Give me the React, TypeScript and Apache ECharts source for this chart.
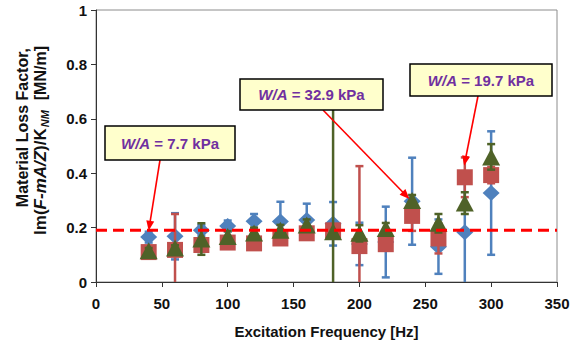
import React, { useEffect, useRef } from 'react';
import * as echarts from 'echarts';

// ---- data ----
const frequencies = [40, 60, 80, 100, 120, 140, 160, 180, 200, 220, 240, 260, 280, 300];

const blueValues = [0.165, 0.168, 0.19, 0.206, 0.223, 0.222, 0.228, 0.214, 0.14, 0.147, 0.297, 0.13, 0.183, 0.327];
const blueErrors = [0.02, 0.085, 0.02, 0.02, 0.027, 0.073, 0.06, 0.08, 0.078, 0.13, 0.16, 0.1, 0.2, 0.227];

const redValues = [0.11, 0.118, 0.136, 0.145, 0.142, 0.16, 0.179, 0.19, 0.132, 0.139, 0.243, 0.16, 0.385, 0.393];
const redErrors = [0.01, 0.132, 0.02, 0.02, 0.02, 0.02, 0.02, 0.02, 0.294, 0.02, 0.055, 0.055, 0.073, 0.03];

const greenValues = [0.115, 0.125, 0.158, 0.167, 0.18, 0.19, 0.21, 0.185, 0.179, 0.197, 0.3, 0.216, 0.29, 0.46];
const greenErrors = [0.01, 0.01, 0.058, 0.02, 0.02, 0.02, 0.02, 0.5, 0.03, 0.02, 0.02, 0.034, 0.04, 0.047];

const referenceLevel = 0.19;

const annotationLabels = ['7.7', '32.9', '19.7'];
const annotationTargets = [
  [40, 0.188],
  [238, 0.305],
  [279.5, 0.427],
];

const COLORS = { blue: '#4F81BD', red: '#C0504D', green: '#4F6228' };
const FONT = '"Liberation Sans", Arial, sans-serif';

function errorSeries(vals: number[], errs: number[], color: string, z: number) {
  return {
    type: 'custom',
    z,
    silent: true,
    data: frequencies.map((f, i) => [f, vals[i], errs[i]]),
    encode: { x: 0, y: 1 },
    renderItem: (params: any, api: any) => {
      const x = api.value(0);
      const y = api.value(1);
      const e = api.value(2);
      const cs = params.coordSys;
      const top = api.coord([x, y + e]);
      const bot = api.coord([x, y - e]);
      const yMin = cs.y;
      const yMax = cs.y + cs.height;
      const t = Math.max(top[1], yMin);
      const b = Math.min(bot[1], yMax);
      const style = { stroke: color, lineWidth: 2.5 };
      const children: any[] = [
        { type: 'line', shape: { x1: top[0], y1: t, x2: top[0], y2: b }, style },
      ];
      if (top[1] >= yMin) children.push({ type: 'line', shape: { x1: top[0] - 4, y1: top[1], x2: top[0] + 4, y2: top[1] }, style });
      if (bot[1] <= yMax) children.push({ type: 'line', shape: { x1: bot[0] - 4, y1: bot[1], x2: bot[0] + 4, y2: bot[1] }, style });
      return { type: 'group', children };
    },
  };
}

function scatterSeries(vals: number[], color: string, symbol: string, size: number[], z: number) {
  return {
    type: 'scatter',
    z,
    symbol,
    symbolSize: size,
    itemStyle: { color, opacity: 1 },
    data: frequencies.map((f, i) => [f, vals[i]]),
  };
}

export default function App() {
  const ref = useRef<HTMLDivElement>(null);
  useEffect(() => {
    document.body.style.margin = '0';
    const chart = echarts.init(ref.current!, null, { renderer: 'svg' });
    chart.setOption({
      animation: false,
      backgroundColor: '#ffffff',
      grid: {
        left: 96,
        right: 17,
        top: 10,
        bottom: 65,
        show: true,
        borderColor: '#8c8c8c',
        borderWidth: 1,
      },
      xAxis: {
        type: 'value',
        min: 0,
        max: 350,
        interval: 50,
        name: 'Excitation Frequency [Hz]',
        nameLocation: 'middle',
        nameGap: 42,
        nameTextStyle: { fontFamily: FONT, fontWeight: 'bold', fontSize: 15, color: '#111' },
        axisLine: { lineStyle: { color: '#333', width: 1 } },
        axisTick: { show: true, inside: false, length: 5, lineStyle: { color: '#333' } },
        axisLabel: { margin: 14, fontFamily: FONT, fontWeight: 'bold', fontSize: 15, color: '#111' },
        splitLine: { show: false },
      },
      yAxis: {
        type: 'value',
        min: 0,
        max: 1,
        interval: 0.2,
        axisLine: { show: true, lineStyle: { color: '#333', width: 1 } },
        axisTick: { show: true, inside: false, length: 5, lineStyle: { color: '#333' } },
        axisLabel: { margin: 9, fontFamily: FONT, fontWeight: 'bold', fontSize: 15, color: '#111' },
        splitLine: { show: false },
      },
      series: [
        errorSeries(blueValues, blueErrors, COLORS.blue, 2),
        scatterSeries(blueValues, COLORS.blue, 'diamond', [17, 16], 3),
        errorSeries(redValues, redErrors, COLORS.red, 4),
        scatterSeries(redValues, COLORS.red, 'rect', [16, 16], 5),
        errorSeries(greenValues, greenErrors, COLORS.green, 6),
        scatterSeries(greenValues, COLORS.green, 'triangle', [18, 17], 7),
        {
          type: 'line',
          z: 8,
          silent: true,
          symbol: 'none',
          data: [
            [0, referenceLevel],
            [350, referenceLevel],
          ],
          lineStyle: { color: '#FF0000', width: 3, type: [11, 6] },
        },
      ],
    });

    const boxes = [
      { x: 105, y: 126, w: 130, h: 34, sx: 160, sy: 160 },
      { x: 240, y: 79, w: 143, h: 31, sx: 323, sy: 110 },
      { x: 410, y: 64, w: 142, h: 32, sx: 478, sy: 96 },
    ];
    const graphics: any[] = [];
    boxes.forEach((b, i) => {
      const tip = chart.convertToPixel({ gridIndex: 0 }, annotationTargets[i]) as number[];
      const dx = tip[0] - b.sx;
      const dy = tip[1] - b.sy;
      const len = Math.sqrt(dx * dx + dy * dy);
      const ux = dx / len;
      const uy = dy / len;
      const L = 10;
      const W = 8;
      const bx = tip[0] - ux * L;
      const by = tip[1] - uy * L;
      graphics.push({
        type: 'line',
        z: 100,
        shape: { x1: b.sx, y1: b.sy, x2: bx + ux * 2, y2: by + uy * 2 },
        style: { stroke: '#FF0000', lineWidth: 1.6 },
      });
      graphics.push({
        type: 'polygon',
        z: 100,
        shape: {
          points: [
            [tip[0], tip[1]],
            [bx - uy * W / 2, by + ux * W / 2],
            [bx + uy * W / 2, by - ux * W / 2],
          ],
        },
        style: { fill: '#FF0000' },
      });
      graphics.push({
        type: 'rect',
        z: 101,
        shape: { x: b.x, y: b.y, width: b.w, height: b.h },
        style: { fill: '#FFFFCC', stroke: '#000', lineWidth: 1.5 },
      });
      graphics.push({
        type: 'text',
        z: 102,
        x: b.x + b.w / 2,
        y: b.y + b.h / 2,
        style: {
          text: `{i|W/A}{n| = ${annotationLabels[i]} kPa}`,
          align: 'center',
          verticalAlign: 'middle',
          rich: {
            i: { fontFamily: FONT, fontSize: 15, fontWeight: 'bold', fontStyle: 'italic', fill: '#7030A0' },
            n: { fontFamily: FONT, fontSize: 15, fontWeight: 'bold', fill: '#7030A0' },
          },
        },
      });
    });

    graphics.push({
      type: 'text',
      x: 22,
      y: 48,
      rotation: Math.PI / 2,
      style: {
        text: 'Material Loss Factor,',
        fontFamily: FONT,
        fontSize: 16,
        fontWeight: 'bold',
        fill: '#111',
        align: 'right',
        verticalAlign: 'middle',
      },
    });
    graphics.push({
      type: 'text',
      x: 40,
      y: 46,
      rotation: Math.PI / 2,
      style: {
        text: '{a|Im(}{b|F-mA/Z}{a|)/K}{s|NM}{c|  [MN/m]}',
        align: 'right',
        verticalAlign: 'middle',
        rich: {
          a: { fontFamily: FONT, fontSize: 17, fontWeight: 'bold', fill: '#111', lineHeight: 20 },
          b: { fontFamily: FONT, fontSize: 17, fontWeight: 'bold', fontStyle: 'italic', fill: '#111', lineHeight: 20 },
          c: { fontFamily: FONT, fontSize: 16, fontWeight: 'bold', fill: '#111', lineHeight: 20 },
          s: { fontFamily: FONT, fontSize: 11, fontWeight: 'bold', fontStyle: 'italic', fill: '#111', lineHeight: 20, verticalAlign: 'bottom', padding: [6, 1, 0, 1] },
        },
      },
    });

    chart.setOption({ graphic: graphics });
    return () => chart.dispose();
  }, []);
  return <div ref={ref} style={{ width: 574, height: 347 }} />;
}
